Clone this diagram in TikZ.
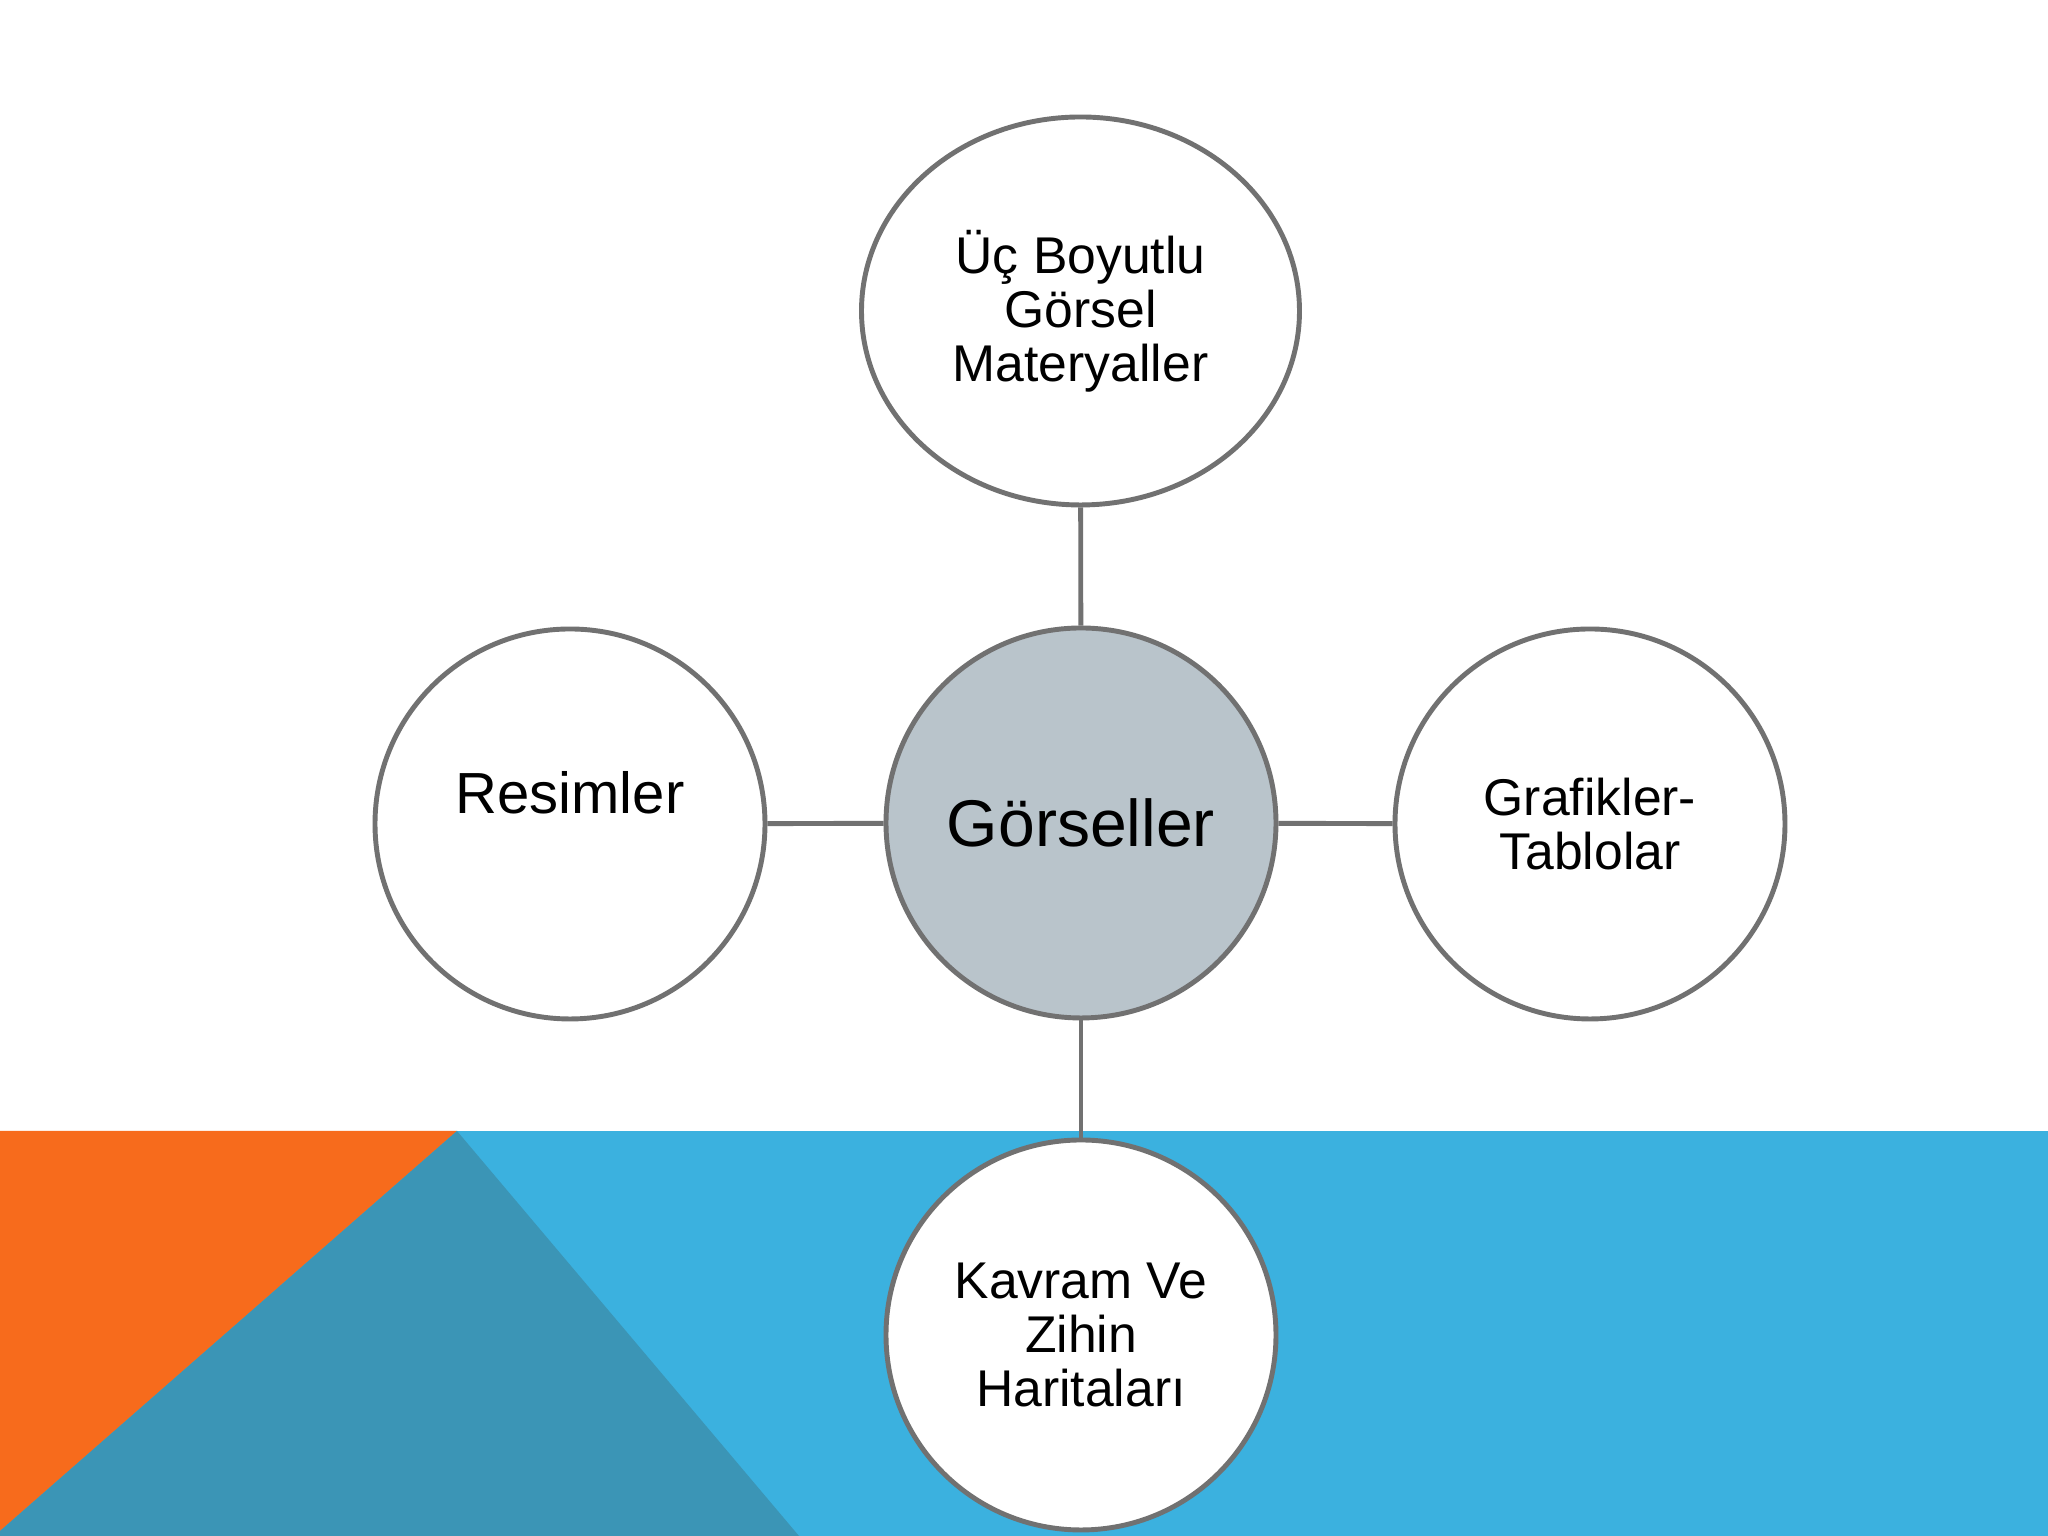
\documentclass[tikz,border=0pt]{standalone}
\usepackage{fontspec}
\setmainfont{Liberation Sans}
\usetikzlibrary{shapes.geometric}

\definecolor{bandblue}{HTML}{3BB1DF}
\definecolor{bandteal}{HTML}{3B95B6}
\definecolor{bandorange}{HTML}{F76B1C}
\definecolor{hubgray}{HTML}{B9C4CB}
\definecolor{ringgray}{HTML}{717171}

\begin{document}
\begin{tikzpicture}[
    bubble/.style={circle, draw=ringgray, line width=1.4pt, fill=white,
        minimum size=3.9cm, align=center,
        font=\fontsize{14.7}{15.4}\selectfont},
    link/.style={draw=ringgray, line width=1.4pt}]
    \useasboundingbox (0,0) rectangle (20.48,15.36);
    \fill[white] (0,0) rectangle (20.48,15.36);

    % band at the bottom
    \fill[bandblue] (0,0) rectangle (20.48,4.05);
    \fill[bandorange] (0,4.05) -- (4.57,4.05) -- (0,0.05) -- cycle;
    \fill[bandteal] (4.57,4.05) -- (7.99,0) -- (0,0) -- (0,0.05) -- cycle;

    % nodes
    \node[bubble, fill=hubgray, font=\fontsize{18.8}{20}\selectfont] (gor) at (10.81,7.13) {Görseller};
    \node[bubble, ellipse, minimum width=4.38cm, minimum height=3.88cm] (uc) at (10.805,12.25) {Üç Boyutlu\\Görsel\\Materyaller};
    \node[bubble, font=\fontsize{16.5}{17}\selectfont, text height=0.45cm, text depth=0.65cm] (res) at (5.70,7.12) {Resimler};
    \node[bubble] (graf) at (15.90,7.12) {Grafikler-\\Tablolar};
    \node[bubble] (kav) at (10.81,2.01) {Kavram Ve\\Zihin\\Haritaları};

    % links
    \draw[link] (uc) -- (gor);
    \draw[link] (res) -- (gor);
    \draw[link] (gor) -- (graf);
    \draw[link] (gor) -- (kav);
\end{tikzpicture}
\end{document}
